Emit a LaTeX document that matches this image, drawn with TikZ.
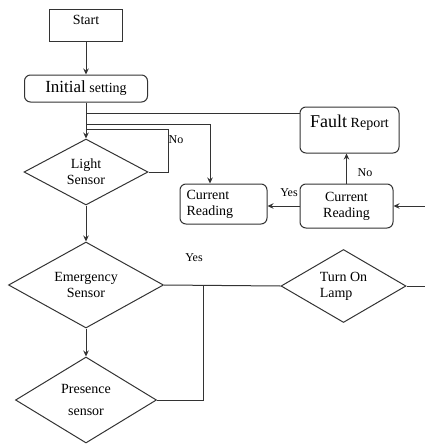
\documentclass[tikz,border=0pt]{standalone}
\usepackage{fontspec}
\setmainfont{Liberation Serif}
\usepackage{tikz}
\usetikzlibrary{arrows.meta, shapes.geometric}

\begin{document}
\begin{tikzpicture}[x=1pt, y=-1pt, >={Stealth[length=6pt, width=5.5pt]},
    font=\fontsize{14}{16}\selectfont, line width=1pt, draw=black!80,
    procbox/.style={draw, rectangle, minimum width=73pt, minimum height=32pt, inner sep=2pt},
    roundbox/.style={draw, rectangle, rounded corners=6pt, inner sep=2pt},
    decision/.style={draw, diamond, aspect=2, inner sep=0pt, align=center},
    lbl/.style={font=\fontsize{12}{14}\selectfont}]
  \useasboundingbox (0,0) rectangle (425,445);
  \node[procbox, text depth=10pt] (start) at (86,25) {Start};
  \node[roundbox, minimum width=123pt, minimum height=27pt] (init) at (86,88.5)
       {{\fontsize{17}{19}\selectfont Initial} setting};
  \node[decision, minimum width=124pt, minimum height=66pt] (light) at (86,172) {Light\\Sensor};
  \node[decision, minimum width=155pt, minimum height=86pt] (emerg) at (86,285) {Emergency\\Sensor};
  \node[decision, minimum width=141pt, minimum height=86pt] (pres) at (86,400) {Presence\\[6pt]sensor};
  \node[decision, minimum width=125pt, minimum height=73pt, align=left] (lamp) at (343.5,286) {Turn On\\Lamp};
  \node[roundbox, minimum width=99pt, minimum height=46pt, text depth=17pt] (fault) at (349.5,130)
       {{\fontsize{18}{20}\selectfont Fault} Report};
  \node[roundbox, text width=74pt, inner xsep=6.5pt, minimum height=40pt, align=left] (curA) at (223.5,204)
       {Current\\Reading};
  \node[roundbox, minimum width=93pt, minimum height=44pt, align=center] (curB) at (346.5,206)
       {Current\\Reading};
  % branch points on the main line
  \coordinate (b1) at (86,113);
  \coordinate (b2) at (86,124);
  \coordinate (b3) at (86,129);
  \coordinate (j) at (203,286);
  \coordinate (lampOut) at (425,286);
  \coordinate (curIn) at (425,206);
  % main line
  \draw[->] (start.south) -- (init.north);
  \draw[->] (init.south) -- (light.north);
  \draw[->] (light.south) -- (emerg.north);
  \draw[->] (emerg.south) -- (pres.north);
  \draw (b1) -- (b1 -| fault.west);
  \draw[->] (b2) -| ([xshift=-13.5pt]curA.north);
  \draw (light.east) -- ++(20,0) |- (b3);
  \node[lbl] (no1) at (176,140) {No};
  % emergency / lamp
  \draw (emerg.east) -- (lamp.west);
  \draw (lamp.east) -- (lampOut);
  \draw (pres.east) -| (j);
  \node[lbl] (yes1) at (194,258) {Yes};
  % current readings
  \draw[->] (curB.west) -- (curB.west -| curA.east);
  \node[lbl] (yes2) at (289,193) {Yes};
  \draw[->] (curB.north) -- (curB.north |- fault.south);
  \node[lbl] (no2) at (365,173) {No};
  \draw[->] (curIn) -- (curB.east);
\end{tikzpicture}
\end{document}
